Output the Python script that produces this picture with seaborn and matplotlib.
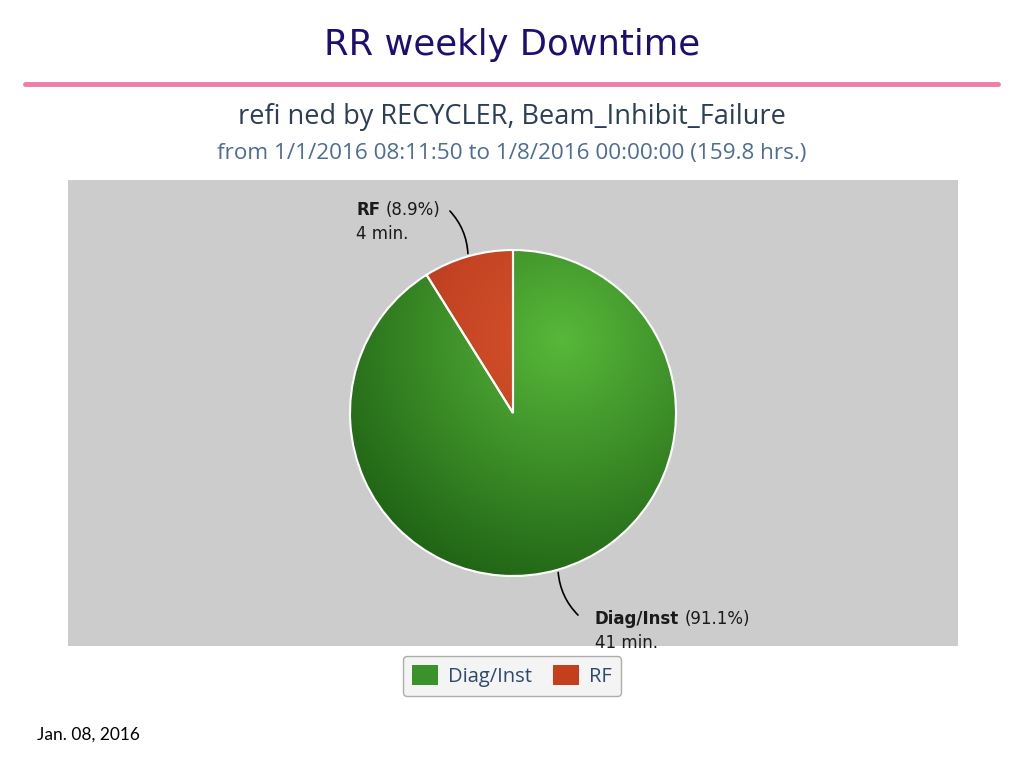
import numpy as np
import matplotlib
matplotlib.use("Agg")
import matplotlib.pyplot as plt
import seaborn as sns
from matplotlib.colors import to_rgb
from matplotlib.patches import Patch
from matplotlib.offsetbox import TextArea, HPacker, VPacker, AnnotationBbox

# data
categories = ["Diag/Inst", "RF"]
percents = [91.1, 8.9]
minutes = [41, 4]
colors = ["#3a922a", "#c63f1c"]
light_colors = ["#58b83a", "#d9532a"]
dark_colors = ["#1b5c12", "#a8301a"]

sns.set_theme(style="white")
plt.rcParams['font.family'] = ['Open Sans', 'DejaVu Sans']

W, H = 1024, 768
fig = plt.figure(figsize=(10.24, 7.68), dpi=100)

def fx(px):
    return px / W

def fy(py):
    return 1 - py / H

# header
fig.text(0.5, fy(45), "RR weekly Downtime", ha="center", va="center",
         fontsize=25.5, color="#1c0f73", family=["DejaVu Sans"])
fig.add_artist(plt.Line2D([fx(25), fx(998)], [fy(84), fy(84)], color="#f07ca8", lw=3.5))
fig.text(0.5, fy(117), "refi ned by RECYCLER, Beam_Inhibit_Failure", ha="center",
         va="center", fontsize=19.5, color="#2c3e55")
fig.text(0.5, fy(153), "from 1/1/2016 08:11:50 to 1/8/2016 00:00:00 (159.8 hrs.)",
         ha="center", va="center", fontsize=16.2, color="#4d6d93")
fig.text(fx(37), fy(735), "Jan. 08, 2016", ha="left", va="center", fontsize=12.5,
         color="black", family=["Lato", "DejaVu Sans"])

# gray panel in pixel units
x0, x1, y0, y1 = 68, 958, 180, 646
ax = fig.add_axes([fx(x0), fy(y1), fx(x1 - x0), (y1 - y0) / H])
ax.set_facecolor("#cccccc")

cx, cy, r = 513, H - 413, 163
wedges, _ = ax.pie(percents, colors=colors, startangle=90, counterclock=False,
                   center=(cx, cy), radius=r,
                   wedgeprops=dict(edgecolor="white", linewidth=1.5))
ax.set_aspect("equal")
ax.set_frame_on(True)
for s in ax.spines.values():
    s.set_visible(False)
ax.set_xticks([])
ax.set_yticks([])

# shading: radial gradient from upper right, clipped to each wedge
gx, gy = np.meshgrid(np.linspace(cx - r, cx + r, 400), np.linspace(cy - r, cy + r, 400))
dist = np.hypot(gx - (cx + 0.3 * r), gy - (cy + 0.45 * r)) / (1.7 * r)
dist = np.clip(dist, 0, 1)[..., None]
for w, lc, dc in zip(wedges, light_colors, dark_colors):
    img = np.array(to_rgb(lc)) * (1 - dist) + np.array(to_rgb(dc)) * dist
    im = ax.imshow(img, extent=(cx - r, cx + r, cy - r, cy + r), origin="lower",
                   zorder=2, interpolation="bilinear")
    im.set_clip_path(w)
    w.set_facecolor("none")
    w.set_zorder(3)
ax.set_xlim(x0, x1)
ax.set_ylim(H - y1, H - y0)

# labels with leader lines
label_pos = {"Diag/Inst": (595, 631), "RF": (356, 222)}
line_ends = {"Diag/Inst": (580, H - 617), "RF": (448, H - 209)}
lab_font = dict(fontsize=12, color="#1a1a1a", family=["DejaVu Sans"])
for w, name, pct, mins in zip(wedges, categories, percents, minutes):
    ang = np.deg2rad((w.theta1 + w.theta2) / 2)
    ex, ey = cx + r * np.cos(ang), cy + r * np.sin(ang)
    tx, ty = label_pos[name]
    line1 = HPacker(children=[
        TextArea(name, textprops=dict(lab_font, fontweight="bold")),
        TextArea(f"({pct}%)", textprops=lab_font)],
        align="baseline", pad=0, sep=4)
    line2 = TextArea(f"{mins} min.", textprops=lab_font)
    pack = VPacker(children=[line1, line2], align="left", pad=0, sep=5)
    ab = AnnotationBbox(pack, (tx, H - ty), xycoords="data", box_alignment=(0.0, 0.5),
                        frameon=False, annotation_clip=False, zorder=5)
    ax.add_artist(ab)
    ax.annotate("", xy=(ex, ey), xytext=line_ends[name], xycoords="data",
                arrowprops=dict(arrowstyle="-", color="black", lw=1.2,
                                connectionstyle="arc3,rad=-0.2"),
                annotation_clip=False, zorder=5)

# legend
handles = [Patch(facecolor=c, edgecolor="none") for c in colors]
leg = fig.legend(handles, categories, loc="center", bbox_to_anchor=(fx(512), fy(676)),
                 ncol=2, fontsize=14.5, frameon=True, fancybox=True, handlelength=1.3,
                 handleheight=1.1, handletextpad=0.5, columnspacing=1.0, borderpad=0.45)
leg.get_frame().set_facecolor("#f2f2f2")
leg.get_frame().set_edgecolor("#9a9a9a")
for t in leg.get_texts():
    t.set_color("#2c4a6e")

fig.savefig("out.png", dpi=100)
